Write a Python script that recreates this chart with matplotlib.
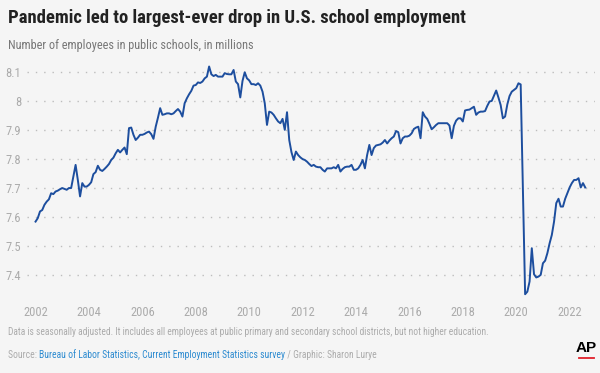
import matplotlib
matplotlib.use("Agg")
import matplotlib.pyplot as plt
from matplotlib import font_manager
import numpy as np

# ---- data (monthly, Jan 2002 - Aug 2022), millions ----
start_year = 2002
employees = [
    7.584, 7.596, 7.619, 7.624, 7.642, 7.653, 7.661, 7.682, 7.679, 7.688, 7.691, 7.696,
    7.700, 7.697, 7.694, 7.700, 7.700, 7.740, 7.780, 7.728, 7.671, 7.717, 7.705, 7.705,
    7.711, 7.720, 7.748, 7.755, 7.777, 7.763, 7.759, 7.766, 7.774, 7.783, 7.797, 7.805,
    7.820, 7.832, 7.823, 7.832, 7.840, 7.817, 7.907, 7.909, 7.884, 7.866, 7.874, 7.884,
    7.884, 7.887, 7.892, 7.895, 7.886, 7.870, 7.912, 7.943, 7.976, 7.953, 7.955, 7.958,
    7.958, 7.955, 7.958, 7.966, 7.973, 7.964, 7.947, 7.993, 8.010, 8.024, 8.036, 8.054,
    8.056, 8.065, 8.063, 8.068, 8.079, 8.085, 8.120, 8.093, 8.087, 8.091, 8.085, 8.085,
    8.085, 8.097, 8.094, 8.093, 8.093, 8.108, 8.068, 8.059, 8.013, 8.070, 8.100, 8.079,
    8.072, 8.059, 8.059, 8.056, 8.062, 8.054, 8.033, 7.993, 7.918, 7.964, 7.961, 7.953,
    7.941, 7.930, 7.924, 7.939, 7.901, 7.962, 7.866, 7.824, 7.797, 7.826, 7.814, 7.806,
    7.800, 7.797, 7.791, 7.783, 7.776, 7.780, 7.774, 7.772, 7.772, 7.763, 7.757, 7.768,
    7.768, 7.768, 7.772, 7.768, 7.780, 7.757, 7.766, 7.772, 7.774, 7.774, 7.780, 7.763,
    7.763, 7.768, 7.780, 7.797, 7.768, 7.814, 7.849, 7.814, 7.838, 7.847, 7.849, 7.851,
    7.857, 7.866, 7.854, 7.864, 7.872, 7.878, 7.897, 7.893, 7.854, 7.872, 7.878, 7.878,
    7.881, 7.889, 7.904, 7.909, 7.912, 7.872, 7.962, 7.947, 7.939, 7.922, 7.903, 7.910,
    7.918, 7.924, 7.924, 7.924, 7.924, 7.924, 7.916, 7.872, 7.915, 7.933, 7.941, 7.941,
    7.930, 7.968, 7.970, 7.971, 7.976, 7.981, 7.953, 7.961, 7.964, 7.964, 7.966, 7.984,
    7.999, 8.001, 8.019, 8.037, 8.013, 7.987, 7.941, 7.947, 7.989, 8.018, 8.033, 8.039,
    8.045, 8.062, 8.058, 7.690, 7.333, 7.342, 7.377, 7.492, 7.402, 7.391, 7.394, 7.400,
    7.440, 7.449, 7.475, 7.509, 7.538, 7.584, 7.648, 7.663, 7.636, 7.636, 7.663, 7.682,
    7.702, 7.717, 7.728, 7.728, 7.734, 7.702, 7.717, 7.702,
]
y_ticks = [7.4, 7.5, 7.6, 7.7, 7.8, 7.9, 8.0, 8.1]
y_tick_labels = ["7.4", "7.5", "7.6", "7.7", "7.8", "7.9", "8", "8.1"]
x_ticks = [2002, 2004, 2006, 2008, 2010, 2012, 2014, 2016, 2018, 2020, 2022]

title = "Pandemic led to largest-ever drop in U.S. school employment"
subtitle = "Number of employees in public schools, in millions"
note = ("Data is seasonally adjusted. It includes all employees at public primary and "
        "secondary school districts, but not higher education.")
src_a = "Source: "
src_b = "Bureau of Labor Statistics, Current Employment Statistics survey"
src_c = " / Graphic: Sharon Lurye"

# ---- style ----
available = {f.name for f in font_manager.fontManager.ttflist}
prefs = ["Liberation Sans Narrow", "DejaVu Sans Condensed", "Roboto Condensed", "Roboto"]
main_font = next((f for f in prefs if f in available), "DejaVu Sans")
FONT = [main_font, "DejaVu Sans"]
plt.rcParams["font.family"] = FONT
BG = "#f5f5f5"
LINE = "#1d4e9e"
GREY = "#ababab"

W, H = 600, 373
fig = plt.figure(figsize=(W / 100, H / 100), dpi=100, facecolor=BG)
ax = fig.add_axes([27 / W, 1 - 298 / H, (595 - 27) / W, (298 - 63.6) / H])
ax.set_facecolor(BG)

x = start_year + np.arange(len(employees)) / 12.0
ax.plot(x, employees, color=LINE, lw=1.4, solid_joinstyle="round", zorder=3)

ax.set_xlim(2001.68, 2022.95)
ax.set_ylim(7.32, 8.13)
ax.set_yticks(y_ticks)
ax.set_yticklabels(y_tick_labels)
ax.set_xticks(x_ticks)
ax.set_xticklabels([str(t) for t in x_ticks])
ax.tick_params(axis="both", length=0, colors=GREY, labelsize=9)
ax.tick_params(axis="x", pad=6)
ax.tick_params(axis="y", pad=4)
ax.grid(axis="y", color="#bdbdbd", linestyle=(0, (1, 5)), linewidth=1.0)
ax.grid(axis="x", visible=False)
for s in ax.spines.values():
    s.set_visible(False)

fig.canvas.draw()
r = fig.canvas.get_renderer()


def fit_text(xp, yp, s, target_w, size, max_size=None, **kw):
    t = fig.text(xp / W, 1 - yp / H, s, fontsize=size, va="center", ha="left", **kw)
    w = t.get_window_extent(r).width
    new = size * target_w / w
    if max_size is not None:
        new = min(new, max_size)
    t.set_fontsize(new)
    return t


fit_text(8, 18, title, 461, 14, max_size=19, fontweight="bold", color="#222222")
fit_text(8, 46, subtitle, 245, 10, max_size=11, color="#777777")
fit_text(8, 332, note, 480, 8, max_size=9, color=GREY)

# source line: measure the full string, then lay out the coloured pieces
probe = fig.text(0, 0, src_a + src_b + src_c, fontsize=8)
src_size = 8 * 365 / probe.get_window_extent(r).width
probe.remove()

t1 = fig.text(8 / W, 1 - 355 / H, src_a, fontsize=src_size, color=GREY, va="center", ha="left")
bb = t1.get_window_extent(r)
t2 = fig.text(bb.x1 / W, 1 - 355 / H, src_b, fontsize=src_size, color="#2b8ad0", va="center", ha="left")
bb = t2.get_window_extent(r)
fig.text(bb.x1 / W, 1 - 355 / H, src_c, fontsize=src_size, color=GREY, va="center", ha="left")

# AP logo
fig.text(586 / W, 1 - 348 / H, "AP", fontsize=11, fontweight="bold", color="#000000",
         va="center", ha="center", family=["Liberation Sans", "DejaVu Sans"])
fig.add_artist(plt.Line2D([579 / W, 594 / W], [1 - 358 / H, 1 - 358 / H],
                          color="#e0202a", lw=1.3, transform=fig.transFigure))

fig.savefig("out.png", dpi=100, facecolor=BG)
